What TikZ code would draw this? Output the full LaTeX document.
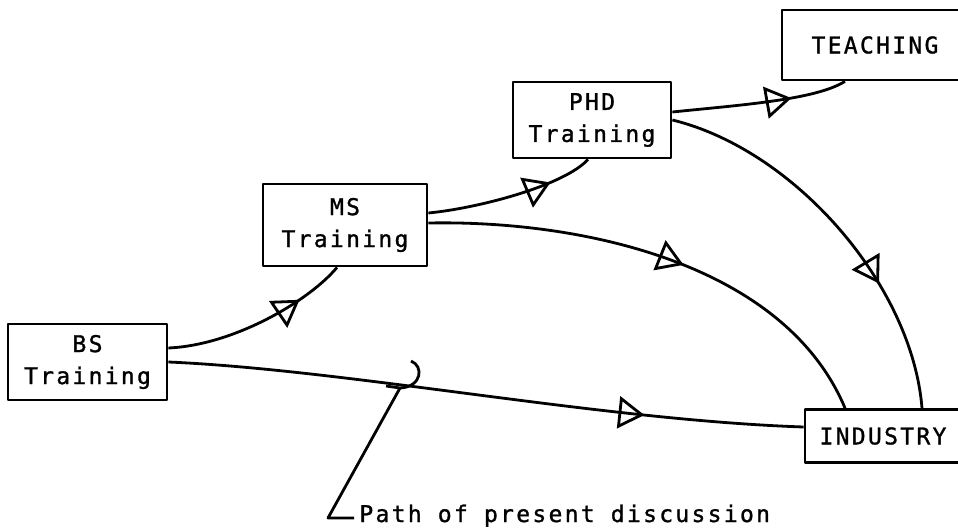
\documentclass[tikz,border=0pt]{standalone}
\usepackage{fontspec}
\newfontfamily\typefont[LetterSpace=10,FakeBold=1.2]{DejaVu Sans Mono}
\usetikzlibrary{arrows.meta,decorations.markings}
\begin{document}
\begin{tikzpicture}[x=1pt,y=-1pt, line width=2.8pt, line join=round,
  txt/.style={font=\typefont\fontsize{23}{32}\selectfont},
  box/.style={draw, rectangle, line width=2.8pt, align=center, txt, inner sep=0pt},
  flow/.style={line width=2.8pt, postaction={decorate},
    decoration={markings, mark=at position #1 with {\arrow{Triangle[open, length=26pt, width=32pt, line width=2.8pt]}}}}
]
\clip (0,0) rectangle (958,529);
\node[box, minimum width=159pt, minimum height=76pt] (bs) at (87.5,362) {BS\\Training};
\node[box, minimum width=164pt, minimum height=82pt] (ms) at (345,225) {MS\\Training};
\node[box, minimum width=158pt, minimum height=76pt] (phd) at (592,120) {PHD\\Training};
\node[box, minimum width=186pt, minimum height=70pt] (teach) at (875,45) {TEACHING};
\node[box, minimum width=156pt, minimum height=53pt] (ind) at (883,436) {INDUSTRY};

\draw[flow=0.74] ([yshift=14pt]bs.east) .. controls (235,345) and (310,300) .. ([xshift=-8pt]ms.south);
\draw[flow=0.74] ([yshift=12pt]ms.east) .. controls (480,208) and (565,185) .. ([xshift=-4pt]phd.south);
\draw[flow=0.68] ([yshift=8pt]phd.east) .. controls (740,105) and (815,100) .. ([xshift=-30pt]teach.south);
\draw[flow=0.54] ([yshift=2pt]ms.east) .. controls (585,220) and (785,265) .. ([xshift=-38pt]ind.north);
\draw[flow=0.67] (phd.east) .. controls (795,150) and (912,285) .. ([xshift=39pt]ind.north);
\draw[flow=0.75] (bs.east) .. controls (350,370) and (600,420) .. ([yshift=9pt]ind.west);

\node[txt, anchor=base west, inner sep=0pt] (note) at (358,522) {Path of present discussion};
\coordinate (mk) at (400,388);
\coordinate (corner) at (328,518);
\draw (411,361) .. controls (424,366) and (422,387) .. (mk) -- (386,386);
\draw (mk) -- (corner) -- (354,518);
\end{tikzpicture}
\end{document}
